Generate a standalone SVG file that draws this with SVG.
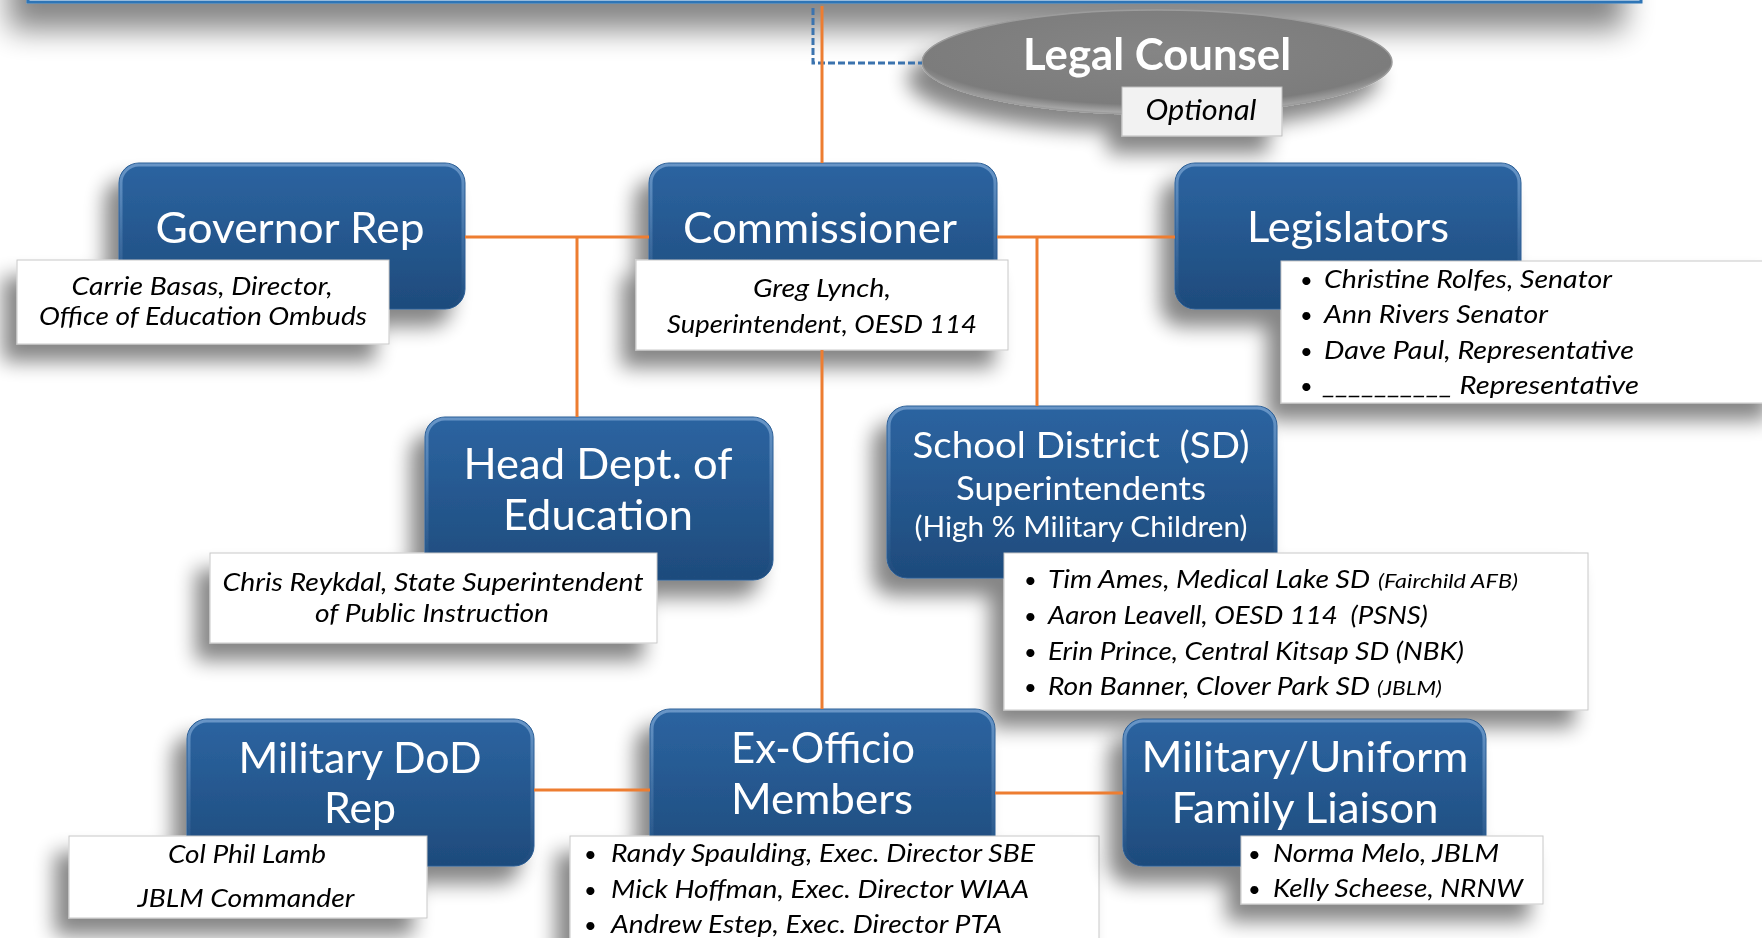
<svg xmlns="http://www.w3.org/2000/svg" width="1762" height="938" viewBox="0 0 1762 938">
<defs>
<style>
.t{font-family:Lato,"Open Sans","Liberation Sans",sans-serif;fill:#fff;text-anchor:middle;font-size:43px}
.c{font-family:Lato,"Open Sans","Liberation Sans",sans-serif;font-style:italic;fill:#000;font-size:25px}
.m{text-anchor:middle}
.b{font-family:Lato,"Open Sans","Liberation Sans",sans-serif;fill:#000;font-size:22px}
.box{fill:url(#bg);stroke:#2a5d94;stroke-width:1}
.bev{fill:none;stroke:url(#bevel);stroke-width:3}
.cap{fill:#fff;stroke:#c8c8c8;stroke-width:1}
.ln{fill:none;stroke:#ED7D31;stroke-width:3}
.dash{fill:none;stroke:#3B73AE;stroke-width:3;stroke-dasharray:7 3}
</style>
<linearGradient id="bg" x1="0" y1="0" x2="0" y2="1">
<stop offset="0" stop-color="#2C64A1"/>
<stop offset="1" stop-color="#1E4B7C"/>
</linearGradient>
<linearGradient id="bevel" x1="0" y1="0" x2="0" y2="1">
<stop offset="0" stop-color="#8fb6e0" stop-opacity="0.6"/>
<stop offset="0.5" stop-color="#8fb6e0" stop-opacity="0.25"/>
<stop offset="1" stop-color="#8fb6e0" stop-opacity="0"/>
</linearGradient>
<radialGradient id="eg" cx="0.5" cy="0.4" r="0.6">
<stop offset="0" stop-color="#858585"/>
<stop offset="0.85" stop-color="#7c7c7c"/>
<stop offset="1" stop-color="#b0b0b0"/>
</radialGradient>
<filter id="sh" x="-20%" y="-20%" width="140%" height="160%">
<feGaussianBlur in="SourceAlpha" stdDeviation="10"/>
<feOffset dx="-14" dy="17"/>
<feComponentTransfer><feFuncA type="linear" slope="0.48"/></feComponentTransfer>
<feMerge><feMergeNode/><feMergeNode in="SourceGraphic"/></feMerge>
</filter>
<filter id="shTop" x="-10%" y="-10%" width="120%" height="140%">
<feGaussianBlur in="SourceAlpha" stdDeviation="15"/>
<feOffset dx="-18" dy="26"/>
<feComponentTransfer><feFuncA type="linear" slope="0.48"/></feComponentTransfer>
<feMerge><feMergeNode/><feMergeNode in="SourceGraphic"/></feMerge>
</filter>
</defs>
<rect width="1762" height="938" fill="#fff"/>

<g id="top-banner" filter="url(#shTop)">
<rect x="28" y="-200" width="1613" height="202" fill="#fff" stroke="#2E75B6" stroke-width="3"/>
</g>

<g id="legal-counsel" filter="url(#sh)">
<ellipse cx="1157" cy="62" rx="235" ry="52" fill="url(#eg)" stroke="#9c9c9c" stroke-width="1.5"/>
<text class="t" x="1157" y="70" font-weight="bold" textLength="268" lengthAdjust="spacingAndGlyphs">Legal Counsel</text>
<rect class="cap" x="1122" y="87" width="160" height="49" style="fill:#f2f2f2;stroke:#bdbdbd"/>
<text class="c m" x="1201" y="120" style="font-size:28px" textLength="111" lengthAdjust="spacingAndGlyphs">Optional</text>
</g>

<g id="governor-rep" filter="url(#sh)">
<rect class="box" x="119" y="163" width="346" height="146" rx="20"/>
<rect class="bev" x="121" y="165" width="342" height="142" rx="18"/>
<text class="t" x="290" y="243" textLength="269" lengthAdjust="spacingAndGlyphs">Governor Rep</text>
<rect class="cap" x="17" y="260" width="372" height="84"/>
<text class="c m" x="202" y="295" textLength="261" lengthAdjust="spacingAndGlyphs">Carrie Basas, Director,</text>
<text class="c m" x="203" y="325" textLength="328" lengthAdjust="spacingAndGlyphs">Office of Education Ombuds</text>
</g>

<g id="commissioner" filter="url(#sh)">
<rect class="box" x="649" y="163" width="348" height="146" rx="20"/>
<rect class="bev" x="651" y="165" width="344" height="142" rx="18"/>
<text class="t" x="820" y="243" textLength="274" lengthAdjust="spacingAndGlyphs">Commissioner</text>
<rect class="cap" x="636" y="260" width="372" height="90"/>
<text class="c m" x="822" y="297" textLength="138" lengthAdjust="spacingAndGlyphs">Greg Lynch,</text>
<text class="c m" x="822" y="333" textLength="310" lengthAdjust="spacingAndGlyphs">Superintendent, OESD 114</text>
</g>

<g id="legislators" filter="url(#sh)">
<rect class="box" x="1175" y="163" width="346" height="146" rx="20"/>
<rect class="bev" x="1177" y="165" width="342" height="142" rx="18"/>
<text class="t" x="1348" y="242" textLength="202" lengthAdjust="spacingAndGlyphs">Legislators</text>
<rect class="cap" x="1281" y="261" width="500" height="142"/>
<text class="b" x="1300" y="288">•</text>
<text class="b" x="1300" y="323">•</text>
<text class="b" x="1300" y="359">•</text>
<text class="b" x="1300" y="394">•</text>
<text class="c" x="1324" y="288" textLength="288" lengthAdjust="spacingAndGlyphs">Christine Rolfes, Senator</text>
<text class="c" x="1324" y="323" textLength="224" lengthAdjust="spacingAndGlyphs">Ann Rivers Senator</text>
<text class="c" x="1324" y="359" textLength="310" lengthAdjust="spacingAndGlyphs">Dave Paul, Representative</text>
<text class="c" x="1323" y="394" textLength="316" lengthAdjust="spacingAndGlyphs">__________ Representative</text>
</g>

<g id="head-dept-education" filter="url(#sh)">
<rect class="box" x="425" y="417" width="348" height="163" rx="20"/>
<rect class="bev" x="427" y="419" width="344" height="159" rx="18"/>
<text class="t" x="598" y="479" textLength="269" lengthAdjust="spacingAndGlyphs">Head Dept. of</text>
<text class="t" x="598" y="530" textLength="190" lengthAdjust="spacingAndGlyphs">Education</text>
<rect class="cap" x="210" y="553" width="447" height="90"/>
<text class="c m" x="433" y="591" textLength="421" lengthAdjust="spacingAndGlyphs">Chris Reykdal, State Superintendent</text>
<text class="c m" x="432" y="622" textLength="234" lengthAdjust="spacingAndGlyphs">of Public Instruction</text>
</g>

<g id="school-district" filter="url(#sh)">
<rect class="box" x="887" y="406" width="390" height="172" rx="20"/>
<rect class="bev" x="889" y="408" width="386" height="168" rx="18"/>
<text class="t" x="1081" y="458" style="font-size:36px;white-space:pre" textLength="337" lengthAdjust="spacingAndGlyphs">School District  (SD)</text>
<text class="t" x="1081" y="500" style="font-size:32px" textLength="250" lengthAdjust="spacingAndGlyphs">Superintendents</text>
<text class="t" x="1081" y="537" style="font-size:28px" textLength="333" lengthAdjust="spacingAndGlyphs">(High % Military Children)</text>
<rect class="cap" x="1004" y="553" width="584" height="157"/>
<text class="b" x="1024" y="588">•</text>
<text class="b" x="1024" y="624">•</text>
<text class="b" x="1024" y="660">•</text>
<text class="b" x="1024" y="695">•</text>
<text class="c" x="1048" y="588" textLength="322" lengthAdjust="spacingAndGlyphs">Tim Ames, Medical Lake SD</text>
<text class="c" x="1378" y="588" style="font-size:19px" textLength="140" lengthAdjust="spacingAndGlyphs">(Fairchild AFB)</text>
<text class="c" x="1048" y="624" style="white-space:pre" textLength="380" lengthAdjust="spacingAndGlyphs">Aaron Leavell, OESD 114  (PSNS)</text>
<text class="c" x="1048" y="660" textLength="416" lengthAdjust="spacingAndGlyphs">Erin Prince, Central Kitsap SD (NBK)</text>
<text class="c" x="1048" y="695" textLength="322" lengthAdjust="spacingAndGlyphs">Ron Banner, Clover Park SD</text>
<text class="c" x="1377" y="695" style="font-size:19px" textLength="65" lengthAdjust="spacingAndGlyphs">(JBLM)</text>
</g>

<g id="military-dod-rep" filter="url(#sh)">
<rect class="box" x="187" y="719" width="347" height="147" rx="20"/>
<rect class="bev" x="189" y="721" width="343" height="143" rx="18"/>
<text class="t" x="360" y="773" textLength="243" lengthAdjust="spacingAndGlyphs">Military DoD</text>
<text class="t" x="360" y="823" textLength="72" lengthAdjust="spacingAndGlyphs">Rep</text>
<rect class="cap" x="69" y="836" width="358" height="82"/>
<text class="c m" x="247" y="863" textLength="158" lengthAdjust="spacingAndGlyphs">Col Phil Lamb</text>
<text class="c m" x="246" y="907" textLength="217" lengthAdjust="spacingAndGlyphs">JBLM Commander</text>
</g>

<g id="ex-officio-members" filter="url(#sh)">
<rect class="box" x="650" y="709" width="345" height="157" rx="20"/>
<rect class="bev" x="652" y="711" width="341" height="153" rx="18"/>
<text class="t" x="823" y="763" textLength="184" lengthAdjust="spacingAndGlyphs">Ex-Officio</text>
<text class="t" x="822" y="814" textLength="182" lengthAdjust="spacingAndGlyphs">Members</text>
<rect class="cap" x="570" y="836" width="529" height="130"/>
<text class="b" x="584" y="862">•</text>
<text class="b" x="584" y="898">•</text>
<text class="b" x="584" y="933">•</text>
<text class="c" x="611" y="862" textLength="424" lengthAdjust="spacingAndGlyphs">Randy Spaulding, Exec. Director SBE</text>
<text class="c" x="611" y="898" textLength="418" lengthAdjust="spacingAndGlyphs">Mick Hoffman, Exec. Director WIAA</text>
<text class="c" x="611" y="933" textLength="391" lengthAdjust="spacingAndGlyphs">Andrew Estep, Exec. Director PTA</text>
</g>

<g id="military-uniform-family-liaison" filter="url(#sh)">
<rect class="box" x="1123" y="719" width="363" height="147" rx="20"/>
<rect class="bev" x="1125" y="721" width="359" height="143" rx="18"/>
<text class="t" x="1305" y="772" textLength="327" lengthAdjust="spacingAndGlyphs">Military/Uniform</text>
<text class="t" x="1305" y="823" textLength="267" lengthAdjust="spacingAndGlyphs">Family Liaison</text>
<rect class="cap" x="1241" y="836" width="302" height="68"/>
<text class="b" x="1248" y="862">•</text>
<text class="b" x="1248" y="897">•</text>
<text class="c" x="1273" y="862" textLength="226" lengthAdjust="spacingAndGlyphs">Norma Melo, JBLM</text>
<text class="c" x="1273" y="897" textLength="250" lengthAdjust="spacingAndGlyphs">Kelly Scheese, NRNW</text>
</g>

<g id="connectors">
<path class="dash" d="M813 8 V63 H922"/>
<path class="ln" d="M822 6 V163"/>
<path class="ln" d="M465 237 H649"/>
<path class="ln" d="M577 237 V417"/>
<path class="ln" d="M997 237 H1175"/>
<path class="ln" d="M1037 237 V406"/>
<path class="ln" d="M822 350 V709"/>
<path class="ln" d="M534 790 H650"/>
<path class="ln" d="M995 793 H1123"/>
</g>
</svg>
